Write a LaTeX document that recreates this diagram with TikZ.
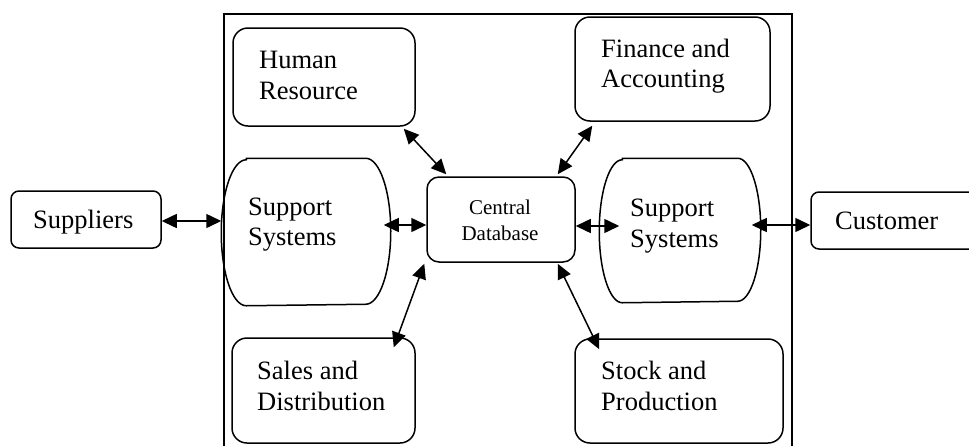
\documentclass[tikz,border=0pt]{standalone}
\usepackage{fontspec}
\setmainfont{Liberation Serif}
\usetikzlibrary{arrows.meta}
\begin{document}
\begin{tikzpicture}[x=1pt,y=-1pt,
  ln/.style={line width=1.5pt},
  rbox/.style={ln,draw,rounded corners=#1,inner sep=0pt},
  frame/.style={ln,inner sep=0pt},
  txt/.style={anchor=base west,inner sep=0pt,align=left,font=\fontsize{26.5}{30.5}\selectfont},
  ctxt/.style={anchor=base,inner sep=0pt,align=center,font=\fontsize{21}{26.5}\selectfont},
  link/.style={ln,{Triangle[length=15pt,width=14pt]}-{Triangle[length=15pt,width=14pt]}}]
\useasboundingbox (0,0) rectangle (969,445);
\clip (0,0) rectangle (969,445);
\fill[white] (0,0) rectangle (969,445);
% outer frame (open at the bottom edge of the picture)
\draw[ln] (224,452) -- (224,14) -- (792,14) -- (792,452);
% boxes
\node[rbox=8pt,minimum width=150pt,minimum height=57pt] (sup) at (86,219.5) {};
\node[rbox=15pt,minimum width=182pt,minimum height=98pt] (hr) at (324,77) {};
\node[rbox=15pt,minimum width=195pt,minimum height=104pt] (fa) at (672.5,69) {};
\node[rbox=12pt,minimum width=148pt,minimum height=85pt] (cdb) at (501,219.5) {};
\node[rbox=8pt,minimum width=200pt,minimum height=57pt] (cus) at (911,220.5) {};
\node[rbox=15pt,minimum width=183pt,minimum height=105pt] (sd) at (323.5,390.5) {};
\node[rbox=15pt,minimum width=208pt,minimum height=104pt] (sp) at (679,391) {};
\node[frame,minimum width=168pt,minimum height=146pt] (lss) at (306,232) {};
\node[frame,minimum width=160pt,minimum height=143pt] (rss) at (680,230.5) {};
% support-system shapes
\draw[ln] ([xshift=25pt]lss.north west) -- ([xshift=-25pt]lss.north east)
  arc[start angle=90,end angle=-90,x radius=25pt,y radius=73pt]
  -- ([xshift=25pt]lss.south west)
  arc[start angle=-90,end angle=-270,x radius=25pt,y radius=73pt] -- cycle;
\draw[ln] ([xshift=23pt]rss.north west) -- ([xshift=-23pt]rss.north east)
  arc[start angle=90,end angle=-90,x radius=23pt,y radius=71.5pt]
  -- ([xshift=23pt]rss.south west)
  arc[start angle=-90,end angle=-270,x radius=23pt,y radius=71.5pt] -- cycle;
% texts (base anchor = baseline of the last line)
\node[txt] (tsup) at (33,228) {Suppliers};
\node[txt] (thr) at (259,99) {Human\\Resource};
\node[txt] (tfa) at (601,87.5) {Finance and\\Accounting};
\node[txt] (tlss) at (248,245.5) {Support\\Systems};
\node[ctxt] (tcdb) at (500,240.5) {Central\\Database};
\node[txt] (trss) at (630,247) {Support\\Systems};
\node[txt] (tcus) at (835,229) {Customer};
\node[txt] (tsd) at (257,410) {Sales and\\Distribution};
\node[txt] (tsp) at (601,410) {Stock and\\Production};
% connectors
\draw[link] ([yshift=-1.5pt]sup.east) -- ([yshift=-1.5pt]sup.east -| lss.west);
\draw[link] ([xshift=-7pt,yshift=-5.5pt]lss.east |- cdb.west) -- ([yshift=-5.5pt]cdb.west);
\draw[link] ([yshift=-6.5pt]cdb.east) -- ([xshift=20pt,yshift=-6.5pt]cdb.east -| rss.west);
\draw[link] ([xshift=-9pt,yshift=-4.5pt]rss.east |- cus.west) -- ([yshift=-4.5pt]cus.west);
\draw[link] ([xshift=-12pt,yshift=-2pt]hr.south east) -- ([xshift=20pt,yshift=2pt]cdb.north west);
\draw[link] ([xshift=18pt,yshift=-4pt]fa.south west) -- ([xshift=-18pt,yshift=2pt]cdb.north east);
\draw[link] ([xshift=-2pt,yshift=-1pt]cdb.south west) -- ([xshift=-22pt,yshift=-10pt]sd.north east);
\draw[link] ([xshift=-18pt,yshift=-1pt]cdb.south east) -- ([xshift=25pt,yshift=-11pt]sp.north west);
\end{tikzpicture}
\end{document}
